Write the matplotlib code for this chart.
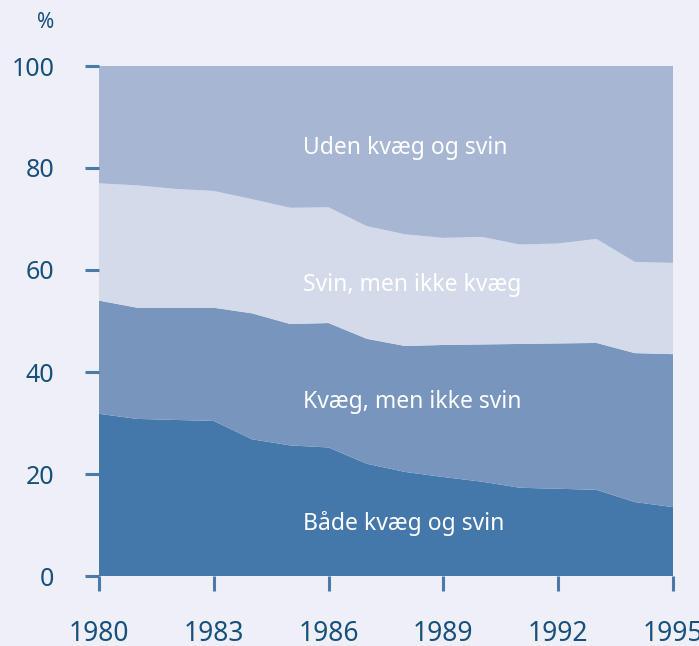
import matplotlib
matplotlib.use("Agg")
import matplotlib.pyplot as plt
import numpy as np

years = list(range(1980, 1996))
# andel af bedrifter, % (aflæst)
baade = [31.8, 30.8, 30.6, 30.4, 26.8, 25.6, 25.2, 22.0, 20.4, 19.4, 18.5, 17.3, 17.1, 16.9, 14.5, 13.5]
kvaeg_cum = [54.0, 52.6, 52.6, 52.6, 51.5, 49.4, 49.6, 46.5, 45.1, 45.3, 45.4, 45.5, 45.6, 45.7, 43.7, 43.5]
svin_cum = [77.0, 76.6, 75.9, 75.5, 73.9, 72.2, 72.3, 68.6, 67.0, 66.3, 66.5, 65.0, 65.2, 66.1, 61.6, 61.4]

baade = np.array(baade)
kvaeg = np.array(kvaeg_cum) - baade
svin = np.array(svin_cum) - np.array(kvaeg_cum)
uden = 100 - np.array(svin_cum)

labels = ["Både kvæg og svin", "Kvæg, men ikke svin", "Svin, men ikke kvæg", "Uden kvæg og svin"]
colors = ["#4477aa", "#7896bd", "#d3dbea", "#a7b6d3"]
label_y = [10.2, 34.1, 57.0, 83.9]

bg = "#eeeff7"
txt = "#17507c"
tick_c = "#4a7aaa"

plt.rcParams["font.family"] = ["Noto Sans", "DejaVu Sans"]

fig = plt.figure(figsize=(6.99, 6.46), dpi=100, facecolor=bg)
ax = fig.add_axes([99 / 699, 70 / 646, 574 / 699, 510 / 646])
ax.set_facecolor(bg)

ax.stackplot(years, baade, kvaeg, svin, uden, colors=colors, linewidth=0)

for lab, y in zip(labels, label_y):
    ax.text(1985.33, y, lab, color="white", fontsize=16.5, va="center", ha="left")

ax.set_xlim(1980, 1995)
ax.set_ylim(0, 100)
ax.set_yticks([0, 20, 40, 60, 80, 100])
ax.set_xticks([1980, 1983, 1986, 1989, 1992, 1995])
for s in ax.spines.values():
    s.set_visible(False)
ax.tick_params(axis="y", length=10, width=2.2, color=tick_c, pad=22, labelsize=18, labelcolor=txt)
ax.tick_params(axis="x", length=11, width=2.2, color=tick_c, pad=21, labelsize=19, labelcolor=txt)

fig.text(46 / 699, 1 - 23 / 646, "%", color=txt, fontsize=15, ha="center", va="center")

fig.savefig("out.png", dpi=100, facecolor=bg)
